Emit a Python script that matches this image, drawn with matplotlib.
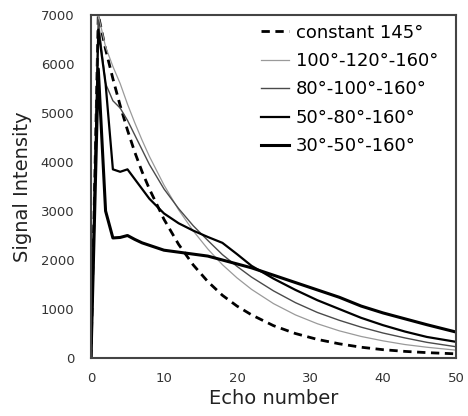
import matplotlib.pyplot as plt

# echo numbers sampled for every series
echo = [0, 1, 2, 3, 4, 5, 6, 7, 8, 10, 12, 14, 16, 18, 20, 22, 25, 28, 31, 34, 37, 40, 43, 46, 50]

const_145 = [0, 7000, 6300, 5700, 5150, 4650, 4200, 3800, 3450, 2830, 2320, 1900, 1560, 1280,
             1060, 880, 660, 500, 380, 290, 220, 170, 135, 110, 85]
fa_100_120 = [0, 7000, 6350, 5950, 5600, 5180, 4800, 4445, 4115, 3530, 3025, 2595, 2225, 1905,
              1635, 1400, 1110, 880, 700, 555, 440, 350, 275, 220, 160]
fa_80_100 = [0, 6900, 5600, 5250, 5100, 4850, 4550, 4250, 3950, 3450, 3050, 2700, 2400, 2110,
             1870, 1650, 1370, 1130, 930, 770, 630, 510, 410, 320, 230]
fa_50_80 = [0, 6700, 5600, 3850, 3800, 3850, 3650, 3450, 3250, 2950, 2750, 2600, 2470, 2350,
            2120, 1880, 1620, 1390, 1180, 1000, 820, 670, 540, 430, 330]
fa_30_50 = [0, 5900, 3000, 2450, 2460, 2500, 2420, 2350, 2300, 2200, 2160, 2120, 2080, 2000,
            1920, 1840, 1690, 1540, 1390, 1240, 1060, 920, 800, 680, 530]

labels = ['constant 145°', '100°-120°-160°', '80°-100°-160°', '50°-80°-160°', '30°-50°-160°']

fig = plt.figure(figsize=(4.68, 4.16), dpi=100)
ax = fig.add_axes([0.1944, 0.1394, 0.78, 0.8246])

ax.plot(echo, const_145, color='black', lw=2.0, ls=(0, (3, 2)), label=labels[0])
ax.plot(echo, fa_100_120, color='#9a9a9a', lw=0.9, label=labels[1])
ax.plot(echo, fa_80_100, color='#4a4a4a', lw=1.0, label=labels[2])
ax.plot(echo, fa_50_80, color='black', lw=1.6, label=labels[3])
ax.plot(echo, fa_30_50, color='black', lw=2.2, label=labels[4])

ax.set_xlim(0, 50)
ax.set_ylim(0, 7000)
ax.set_xticks(range(0, 51, 10))
ax.set_yticks(range(0, 7001, 1000))
ax.tick_params(length=0, labelsize=9.5, colors='#333333')
ax.tick_params(axis='y', pad=12)
ax.tick_params(axis='x', pad=10)
for s in ax.spines.values():
    s.set_color('#444444')
    s.set_linewidth(1.5)

ax.set_xlabel('Echo number', fontsize=14, color='#222222', labelpad=3)
ax.set_ylabel('Signal Intensity', fontsize=14, color='#222222', labelpad=6)

ax.legend(loc='upper left', bbox_to_anchor=(0.465, 0.975), frameon=False, fontsize=13,
          handlelength=1.55, handletextpad=0.4, labelspacing=0.58, borderpad=0, borderaxespad=0)

fig.savefig('out.png', dpi=100)
